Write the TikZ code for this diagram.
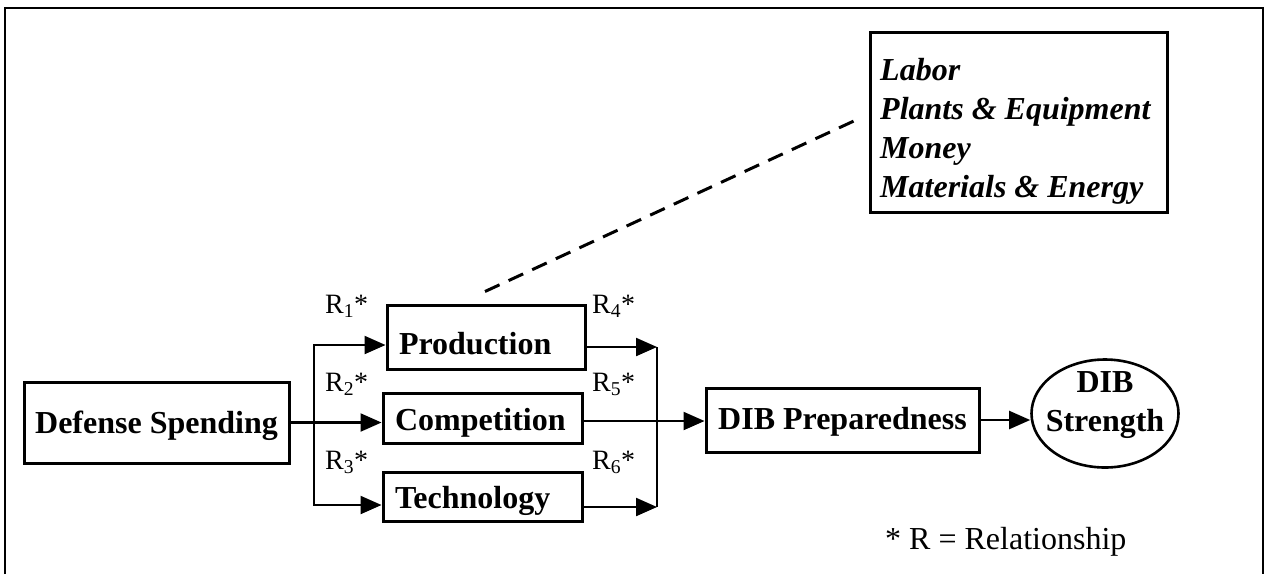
\documentclass[tikz,border=0pt]{standalone}
\usepackage{fontspec}
\setmainfont{Liberation Serif}
\usetikzlibrary{arrows.meta,calc,shapes.geometric}
\begin{document}
\begin{tikzpicture}[x=1pt,y=-1pt,
  bigbold/.style={font=\fontsize{32}{39}\selectfont\bfseries},
  box/.style={draw,line width=3pt,bigbold,inner sep=0pt,text depth=0pt},
  lbox/.style={box,inner xsep=12pt,align=left},
  conn/.style={line width=2.2pt},
  arr/.style={conn,-{Triangle[length=21pt,width=18pt]}},
  rlab/.style={font=\fontsize{28}{32}\selectfont,anchor=base west,inner sep=0pt}]
\useasboundingbox (0,0) rectangle (1268,574);
\draw[line width=2.2pt] (5,574) -- (5,8) -- (1263,8) -- (1263,574);

% main boxes
\node[box,minimum width=265pt,minimum height=81pt,text height=21.5pt] (ds) at (156.5,422.5) {Defense Spending};
\node[lbox,text width=174pt,minimum height=64pt,text height=34.5pt] (prod) at (486,337) {Production};
\node[lbox,text width=175pt,minimum height=50pt,text height=25.5pt] (comp) at (482.5,418) {Competition};
\node[lbox,text width=175pt,minimum height=49pt,text height=24.5pt] (tech) at (482.5,496.5) {Technology};
\node[box,minimum width=273pt,minimum height=64pt,text height=18.5pt] (prep) at (842.5,420) {DIB Preparedness};
\node[draw,ellipse,line width=2.6pt,minimum width=147pt,minimum height=108pt,inner sep=0pt] (str) at (1105,413.5) {};
\node[bigbold,align=center,inner sep=0pt] (strtext) at (1105,405) {DIB\\Strength};

% resources box
\node[draw,line width=3pt,minimum width=297pt,minimum height=180pt,inner sep=0pt] (labor) at (1018.5,122) {};
\node[anchor=north west,align=left,inner sep=0pt,font=\fontsize{32}{39}\selectfont\bfseries\itshape] (labortext) at (880,58)
  {Labor\\Plants \& Equipment\\Money\\Materials \& Energy};
\draw[line width=3pt,dash pattern=on 16pt off 10pt] ($(prod.north)+(-1,-12)$) -- ($(labor.west)+(-6,-5)$);

% left connectors
\coordinate (bt) at (314,345);
\coordinate (bb) at (314,505);
\draw[arr] (ds.east) -- (ds.east -| comp.west);
\draw[arr] (bb) |- (bt -| prod.west);
\draw[arr] (bt) |- (bb -| tech.west);

% right connectors
\coordinate (jt) at (657,347);
\coordinate (jb) at (657,507);
\coordinate (jm) at (657,421);
\draw[arr] (prod.east |- jt) -- (jt);
\draw[arr] (tech.east |- jb) -- (jb);
\draw[conn] (jt) -- (jb);
\draw[arr] (comp.east |- jm) -- (jm -| prep.west);
\draw[arr] (prep.east) -- (prep.east -| str.west);

% relationship labels
\node[rlab] (r1) at (325,313) {R\textsubscript{1}*};
\node[rlab] (r2) at (325,391) {R\textsubscript{2}*};
\node[rlab] (r3) at (325,469) {R\textsubscript{3}*};
\node[rlab] (r4) at (592,313) {R\textsubscript{4}*};
\node[rlab] (r5) at (592,391) {R\textsubscript{5}*};
\node[rlab] (r6) at (592,469) {R\textsubscript{6}*};

\node[anchor=base west,inner sep=0pt,font=\fontsize{32}{39}\selectfont] (note) at (885,549) {* R = Relationship};
\end{tikzpicture}
\end{document}
